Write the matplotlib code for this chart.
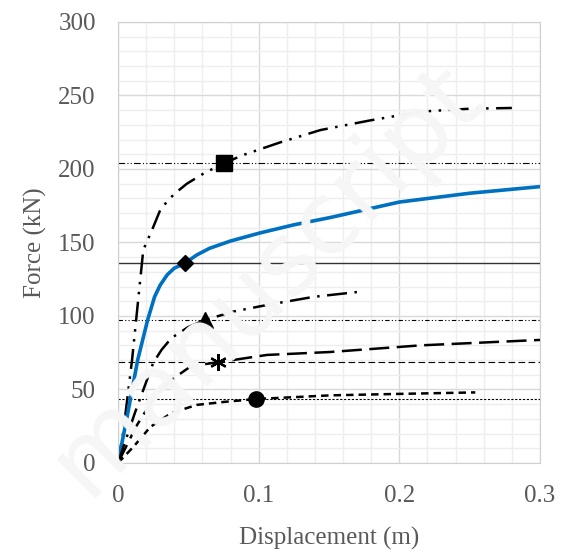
import numpy as np
import matplotlib.pyplot as plt
from matplotlib.ticker import MultipleLocator

# curves (displacement m, force kN)
x_sq = [0, 0.0036, 0.010, 0.018, 0.024, 0.030, 0.035, 0.040, 0.049, 0.061, 0.0755, 0.089, 0.115, 0.144, 0.179, 0.215, 0.25, 0.28]
y_sq = [0, 20, 70, 145, 158, 172, 178, 183, 190, 197, 204, 209.5, 218, 226.5, 233, 239, 241, 241.5]

x_bl = [0, 0.0064, 0.014, 0.021, 0.026, 0.030, 0.035, 0.040, 0.0477, 0.056, 0.065, 0.08, 0.101, 0.125, 0.151, 0.2, 0.25, 0.3]
y_bl = [0, 31, 70, 97, 113, 121, 128, 132.5, 136, 141.5, 146, 151, 156.5, 162, 167, 177.5, 183.5, 188]

x_tr = [0, 0.012, 0.025, 0.031, 0.038, 0.05, 0.062, 0.082, 0.106, 0.139, 0.172]
y_tr = [0, 34, 68, 77, 85, 92.5, 97.3, 103, 107.5, 113, 116.5]

x_st = [0, 0.013, 0.026, 0.038, 0.05, 0.06, 0.071, 0.106, 0.151, 0.215, 0.3]
y_st = [0, 25, 45, 56.5, 64.6, 67, 68.5, 73.5, 75.5, 80, 83.7]

x_ci = [0, 0.011, 0.023, 0.038, 0.056, 0.075, 0.098, 0.13, 0.151, 0.2, 0.254]
y_ci = [0, 11, 24.5, 34, 39.5, 41.5, 43.5, 45, 46, 47, 48]

# marked points and horizontal reference levels
mark_x = [0.0755, 0.0477, 0.062, 0.071, 0.098]
mark_y = [204, 136, 97.3, 69, 43.5]
ref_y = [204, 136, 97, 69, 43.5]

x_ticks = [0, 0.1, 0.2, 0.3]
x_ticklabels = ['0', '0.1', '0.2', '0.3']

plt.rcParams['font.family'] = ['Liberation Serif', 'DejaVu Serif']
grey = '#595959'

fig = plt.figure(figsize=(5.68, 5.58), dpi=100)
ax = fig.add_axes([0.2077, 0.1703, 0.7430, 0.7903])

# faint watermark
fig.text(0.47, 0.5, 'manuscript', fontsize=72, rotation=45, color='#f6f6f6',
         ha='center', va='center', family='DejaVu Sans', zorder=0)
ax.set_facecolor('none')

# reference lines
ax.axhline(ref_y[0], color='black', lw=0.8, dashes=[6, 2, 1, 2, 1, 2])
ax.axhline(ref_y[1], color='#333333', lw=1.0)
ax.axhline(ref_y[2], color='black', lw=0.8, dashes=[4, 2, 1, 2, 1, 2])
ax.axhline(ref_y[3], color='black', lw=0.8, dashes=[6, 3])
ax.axhline(ref_y[4], color='black', lw=0.8, dashes=[2, 1.5])

# curves
ax.plot(x_sq, y_sq, color='black', lw=1.8, dashes=[8, 3, 1, 3, 1, 3])
ax.plot(x_bl, y_bl, color='#0070c0', lw=2.6)
ax.plot(x_tr, y_tr, color='black', lw=1.8, dashes=[8, 3, 1, 3])
ax.plot(x_st, y_st, color='black', lw=1.8, dashes=[8, 3])
ax.plot(x_ci, y_ci, color='black', lw=1.8, dashes=[3, 2])

# markers
ax.plot(mark_x[0], mark_y[0], 's', color='black', ms=11)
ax.plot(mark_x[1], mark_y[1], 'D', color='black', ms=8)
ax.plot(mark_x[2], mark_y[2], '^', color='black', ms=11)
ax.plot(mark_x[3], mark_y[3], marker=(6, 2, 0), color='black', ms=12, mew=1.6)
ax.plot(mark_x[4], mark_y[4], 'o', color='black', ms=11)

ax.set_xlim(0, 0.3)
ax.set_ylim(0, 300)
ax.set_xticks(x_ticks)
ax.set_xticklabels(x_ticklabels)
ax.xaxis.set_minor_locator(MultipleLocator(0.02))
ax.yaxis.set_major_locator(MultipleLocator(50))
ax.yaxis.set_minor_locator(MultipleLocator(10))
ax.grid(which='major', color='#d9d9d9', lw=1.0)
ax.grid(which='minor', color='#eeeeee', lw=1.0)
ax.set_axisbelow(True)
ax.tick_params(which='both', length=0, labelsize=18, labelcolor=grey, pad=16)
for s in ax.spines.values():
    s.set_color('#d0d0d0')

ax.set_xlabel('Displacement (m)', fontsize=18, color=grey, labelpad=14)
ax.set_ylabel('Force (kN)', fontsize=18, color=grey, labelpad=8)

fig.savefig('out.png', dpi=100)
